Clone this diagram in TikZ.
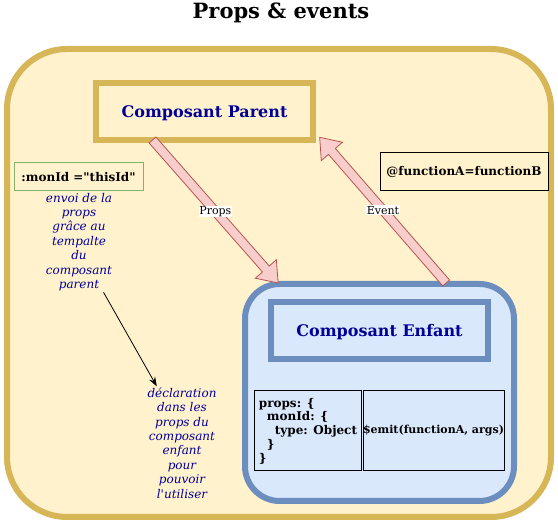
\documentclass[tikz,border=0pt]{standalone}
\usepackage{fontspec}
\setmainfont{DejaVu Serif}[Ligatures=TeXOff]
\usetikzlibrary{calc}
\usetikzlibrary{arrows.meta}

\definecolor{jaunefond}{HTML}{FFF2CC}
\definecolor{jaunetrait}{HTML}{D6B656}
\definecolor{bleufond}{HTML}{DAE8FC}
\definecolor{bleutrait}{HTML}{6C8EBF}
\definecolor{rosefond}{HTML}{F8CECC}
\definecolor{rougetrait}{HTML}{B85450}
\definecolor{verttrait}{HTML}{82B366}
\definecolor{encre}{HTML}{000099}

% block arrow between two named points
\newcommand{\blockarrow}[2]{%
  \draw[fleche] let \p1=($(#2)-(#1)$), \n1={atan2(\y1,\x1)} in
    ($(#1)+(\n1+90:3.4pt)$) -- ($(#2)+(\n1+180:14pt)+(\n1+90:3.4pt)$)
    -- ($(#2)+(\n1+180:14pt)+(\n1+90:10.5pt)$) -- (#2)
    -- ($(#2)+(\n1+180:14pt)+(\n1-90:10.5pt)$)
    -- ($(#2)+(\n1+180:14pt)+(\n1-90:3.4pt)$)
    -- ($(#1)+(\n1-90:3.4pt)$) -- cycle;
}

\begin{document}
\begin{tikzpicture}[x=0.75pt, y=-0.75pt,
    every node/.style={outer sep=0pt},
    jaunebox/.style={draw=jaunetrait, fill=jaunefond, line width=4.5pt},
    bleubox/.style={draw=bleutrait, fill=bleufond, line width=4.5pt},
    codebox/.style={draw=black, line width=0.75pt, font=\bfseries\fontsize{9}{10.3}\selectfont},
    titre/.style={font=\bfseries\fontsize{12}{14}\selectfont, text=encre, text depth=0.5pt},
    note/.style={align=center, inner sep=1pt, text=encre, font=\itshape\fontsize{9}{10.8}\selectfont},
    fleche/.style={draw=rougetrait, fill=rosefond, line width=0.6pt, line join=miter},
    arrlabel/.style={fill=white, inner sep=0.5pt, font=\fontsize{8.25}{10}\selectfont}]

    \useasboundingbox (0,0) rectangle (558,523);

    \node[font=\bfseries\fontsize{15.75}{18}\selectfont] (title) at (281,13) {Props \& events};

    \node[jaunebox, rounded corners=45pt, minimum width=408pt, minimum height=351pt] (fond) at (279,283) {};

    \node[jaunebox, titre, minimum width=162.75pt, minimum height=42.75pt] (parent) at (204.5,111.5) {Composant Parent};

    \node[bleubox, rounded corners=26pt, minimum width=201.75pt, minimum height=162.75pt] (enfant) at (379.5,392.5) {};
    \node[bleubox, titre, minimum width=162.75pt, minimum height=42.75pt] (enfantTitre) at (379.5,330.5) {Composant Enfant};

    \node[codebox, align=left, minimum width=79.5pt, minimum height=60pt] (props) at (308,431)
      {props: \{\\\hspace*{6pt}monId: \{\\\hspace*{12pt}type: Object\\\hspace*{6pt}\}\\\}};
    \node[codebox, font=\bfseries\fontsize{8.25}{10}\selectfont, inner sep=0pt, minimum width=105.75pt, minimum height=60pt] (emit) at (433.5,431) {\$emit(functionA, args)};

    \node[draw=verttrait, line width=0.75pt, minimum width=96.75pt, minimum height=21pt,
          font=\bfseries\fontsize{9}{10.8}\selectfont] (monId) at (78.5,177) {:monId ="thisId"};
    \node[codebox, minimum width=126pt, minimum height=28.5pt] (fonction) at (464,172) {@functionA=functionB};

    \node[note] (envoi) at (79,242) {envoi de la\\props\\grâce au\\tempalte\\du\\composant\\parent};
    \node[note] (decl) at (182,443) {déclaration\\dans les\\props du\\composant\\enfant\\pour\\pouvoir\\l'utiliser};

    \draw[-{Stealth[length=7pt, width=5pt]}, line width=0.6pt] (envoi.-64) -- (decl.114);

    \coordinate (propsTail) at ([xshift=-39pt]parent.south);
    \coordinate (propsTip) at ([xshift=-76pt, yshift=0.75pt]enfant.north);
    \coordinate (eventTail) at ([xshift=50pt, yshift=0.75pt]enfant.north);
    \coordinate (eventTip) at ([xshift=5pt, yshift=2pt]parent.south east);

    \blockarrow{propsTail}{propsTip}
    \blockarrow{eventTail}{eventTip}

    \path (propsTail) -- (propsTip) node[arrlabel, pos=0.5] (propsLabel) {Props};
    \path (eventTail) -- (eventTip) node[arrlabel, pos=0.5] (eventLabel) {Event};

\end{tikzpicture}
\end{document}
